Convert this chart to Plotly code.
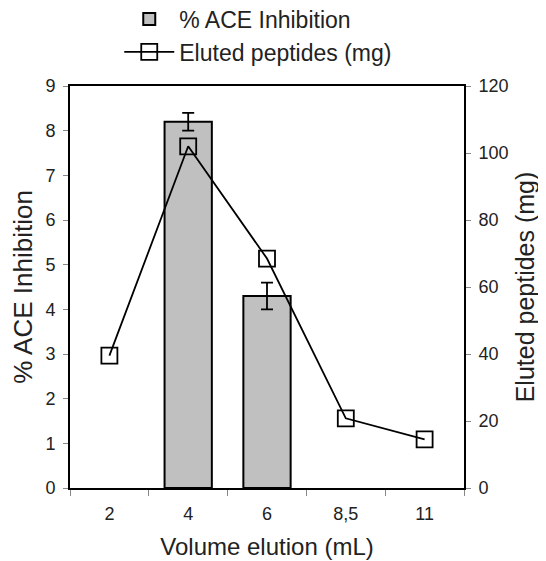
import plotly.graph_objects as go

categories = ["2", "4", "6", "8,5", "11"]
ace_inhibition = [None, 8.2, 4.3, None, None]
ace_error = [0, 0.2, 0.3, 0, 0]
eluted_peptides = [39.5, 102, 68.5, 20.8, 14.5]

font_family = "Liberation Sans, Arial, sans-serif"

fig = go.Figure()
fig.add_trace(go.Bar(
    x=categories, y=ace_inhibition, name="% ACE Inhibition",
    marker=dict(color="#c0c0c0", line=dict(color="black", width=2)),
    error_y=dict(type="data", array=ace_error, visible=True, color="black", thickness=1.8, width=6),
    yaxis="y",
))
fig.add_trace(go.Scatter(
    x=categories, y=eluted_peptides, name="Eluted peptides (mg)",
    mode="lines+markers",
    line=dict(color="black", width=1.8),
    marker=dict(symbol="square-open", size=16, color="black", line=dict(width=1.8)),
    yaxis="y2",
))

fig.update_layout(
    width=538, height=553,
    margin=dict(l=62, r=82, t=78, b=73, autoexpand=False),
    paper_bgcolor="white", plot_bgcolor="white",
    font=dict(family=font_family, size=18, color="#222"),
    bargap=0.4,
    showlegend=True,
    legend=dict(x=0.125, y=1.22, xanchor="left", yanchor="top",
                font=dict(size=23, color="#222"), bgcolor="rgba(0,0,0,0)",
                tracegroupgap=4, itemwidth=50),
    xaxis=dict(
        title=dict(text="Volume elution (mL)", font=dict(size=24), standoff=16),
        automargin=False,
        showline=True, linecolor="black", linewidth=2, mirror=True,
        ticks="outside", tickson="boundaries", ticklen=6, tickcolor="#888",
        ticklabelstandoff=8,
        tickfont=dict(size=18), showgrid=False,
    ),
    yaxis=dict(
        title=dict(text="% ACE Inhibition", font=dict(size=26), standoff=8),
        automargin=False,
        range=[0, 9], dtick=1, showline=True, linecolor="black", linewidth=2,
        ticks="outside", ticklen=5, tickcolor="#888", showgrid=False, zeroline=False,
        ticklabelstandoff=4,
        tickfont=dict(size=18),
    ),
    yaxis2=dict(
        title=dict(text="Eluted peptides (mg)", font=dict(size=25), standoff=9),
        automargin=False,
        range=[0, 120], dtick=20, overlaying="y", side="right",
        showline=True, linecolor="black", linewidth=2,
        ticks="outside", ticklen=5, tickcolor="#888", showgrid=False, zeroline=False,
        ticklabelstandoff=4,
        tickfont=dict(size=18),
    ),
)

fig.write_html("out.html")
